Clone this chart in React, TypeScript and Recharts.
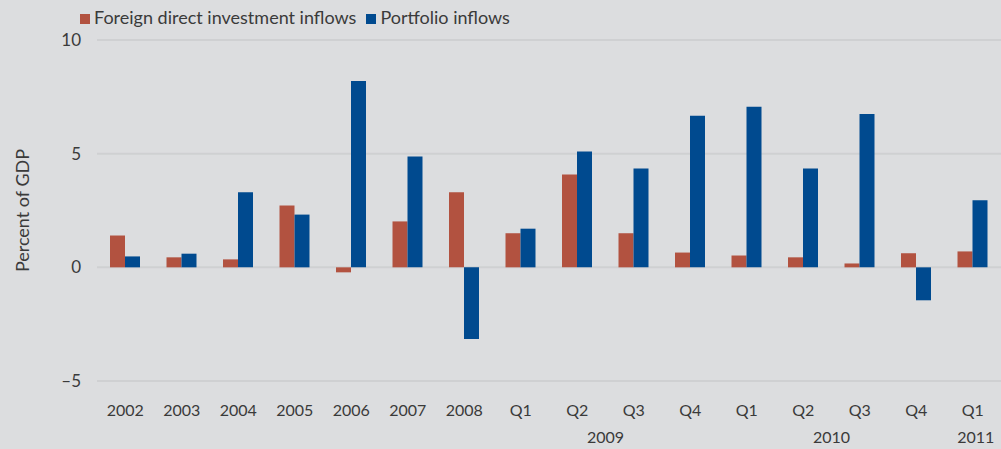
import { Bar, BarChart, CartesianGrid, Legend, XAxis, YAxis, Label } from "recharts"

const periods = ["2002", "2003", "2004", "2005", "2006", "2007", "2008", "Q1", "Q2", "Q3", "Q4", "Q1", "Q2", "Q3", "Q4", "Q1"]
const fdiInflows = [1.4, 0.44, 0.35, 2.72, -0.22, 2.02, 3.3, 1.5, 4.08, 1.5, 0.65, 0.52, 0.44, 0.17, 0.62, 0.7]
const portfolioInflows = [0.48, 0.6, 3.3, 2.32, 8.2, 4.87, -3.15, 1.7, 5.1, 4.35, 6.67, 7.06, 4.35, 6.75, -1.45, 2.95]
const yTicks = [-5, 0, 5, 10]
// second row of the x axis: year label spanning a run of quarters
const yearGroups = [
  { year: "2009", first: 7, last: 10 },
  { year: "2010", first: 11, last: 14 },
  { year: "2011", first: 15, last: 15 },
]

const data = periods.map((p, i) => ({
  key: `${p}-${i}`,
  fdi: fdiInflows[i],
  portfolio: portfolioInflows[i],
}))

const W = 1001
const H = 449
const PLOT_LEFT = 97
const BAND = (W - PLOT_LEFT) / periods.length
const FONT = "Lato, 'Open Sans', sans-serif"
const TEXT = "#3a3a3a"

function PeriodTick(props: any) {
  const { x, y, payload } = props
  const i = payload.index
  const group = yearGroups.find((g) => g.first === i)
  return (
    <g>
      <text x={x} y={y + 35} textAnchor="middle" fill={TEXT} fontSize={16} fontFamily={FONT}>
        {periods[i]}
      </text>
      {group && (
        <text
          x={x + ((group.last - group.first) / 2) * BAND + (group.first === group.last ? 3 : 0)}
          y={y + 62}
          textAnchor="middle"
          fill={TEXT}
          fontSize={16}
          fontFamily={FONT}
        >
          {group.year}
        </text>
      )}
    </g>
  )
}

export default function App() {
  return (
    <div style={{ position: "absolute", left: 0, top: 0, width: W, height: H, background: "#dcdddf" }}>
      <BarChart
        width={W}
        height={H}
        data={data}
        margin={{ top: 18, right: 0, bottom: 0, left: 37 }}
        barGap={0}
        barSize={15}
      >
        <CartesianGrid vertical={false} stroke="#cfd0d2" strokeWidth={2} />
        <XAxis
          dataKey="key"
          axisLine={false}
          tickLine={false}
          tickSize={0}
          tickMargin={0}
          height={68}
          interval={0}
          tick={<PeriodTick />}
        />
        <YAxis
          domain={[-5, 10]}
          ticks={yTicks}
          axisLine={false}
          tickLine={false}
          width={60}
          tickMargin={10}
          tick={{ fill: TEXT, fontSize: 17, fontFamily: FONT }}
          tickFormatter={(v: number) => (v < 0 ? `\u2013${Math.abs(v)}` : `${v}`)}
        >
          <Label
            value="Percent of GDP"
            angle={-90}
            position="insideLeft"
            offset={-14}
            style={{ fill: TEXT, fontSize: 18, fontFamily: FONT, textAnchor: "middle" }}
          />
        </YAxis>
        <Legend
          verticalAlign="top"
          align="left"
          iconType="square"
          iconSize={10}
          wrapperStyle={{ top: 6, left: 80, fontFamily: FONT, fontSize: 18, color: TEXT }}
          formatter={(value: string) => <span style={{ color: TEXT }}>{value}</span>}
        />
        <Bar dataKey="fdi" name="Foreign direct investment inflows" fill="#b25240" isAnimationActive={false} />
        <Bar dataKey="portfolio" name="Portfolio inflows" fill="#004a8f" isAnimationActive={false} />
      </BarChart>
    </div>
  )
}
